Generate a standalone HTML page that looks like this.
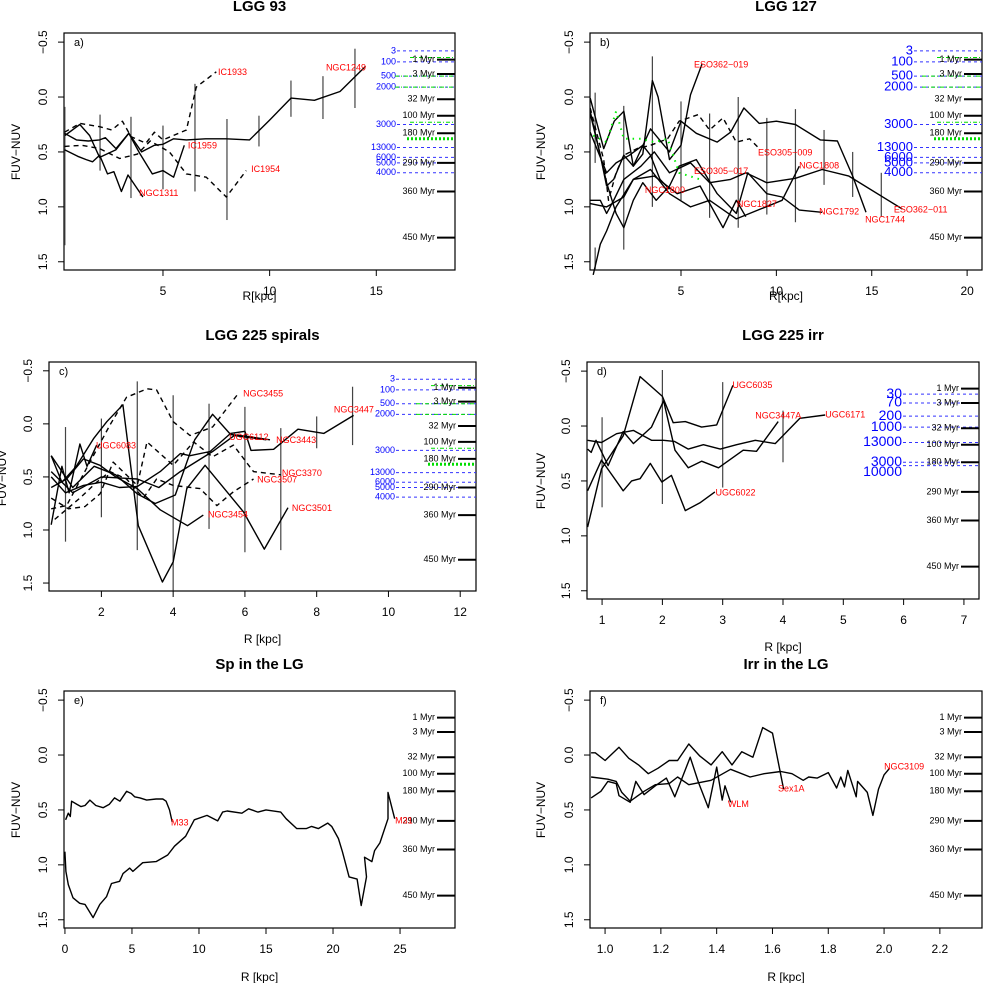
<!DOCTYPE html>
<html><head><meta charset="utf-8"><style>
html,body{margin:0;padding:0;background:#fff;}
svg{display:block;font-family:"Liberation Sans",sans-serif;}
</style></head><body>
<svg id="chart" width="983" height="983" viewBox="0 0 983 983"></svg>
<script>
// ===== data arrays (R in kpc, FUV-NUV colour) =====
// panel a: LGG 93
const aNGC1249R=[0.39,0.94,1.5,2.03,2.3,2.8,3.4,4.0,4.6,5.0,5.5,6.1,7.0,7.97,9.06,10.0,11.0,12.1,13.3,14.5];
const aNGC1249C=[0.33,0.39,0.4,0.39,0.37,0.47,0.33,0.5,0.44,0.43,0.38,0.39,0.38,0.38,0.39,0.21,0.01,0.03,-0.05,-0.28];
const aNGC1311R=[0.39,1.0,1.4,1.7,2.03,2.4,2.7,3.05,3.36,4.06];
const aNGC1311C=[0.48,0.54,0.57,0.59,0.53,0.7,0.68,0.86,0.71,0.91];
const aIC1959R=[0.4,1.1,1.56,2.03,2.8,3.4,3.9,4.5,5.0,5.5,6.0];
const aIC1959C=[0.35,0.25,0.35,0.55,0.48,0.33,0.51,0.7,0.67,0.73,0.44];
const aIC1933R=[0.39,1.1,2.03,2.6,3.1,3.5,4.2,4.6,5.0,6.1,6.56,7.5];
const aIC1933C=[0.32,0.24,0.27,0.3,0.22,0.36,0.42,0.32,0.39,0.3,-0.09,-0.23];
const aIC1954R=[0.39,1.2,2.03,2.97,3.8,4.4,5.3,6.1,7.03,7.97,8.9];
const aIC1954C=[0.45,0.44,0.47,0.56,0.52,0.4,0.5,0.7,0.73,0.91,0.67];
const aErrR=[0.4,2.05,3.5,5.0,6.5,8.0,9.5,11.0,12.5,14.0];
const aErrLo=[0.09,0.16,0.18,0.26,-0.12,0.2,0.17,-0.15,-0.19,-0.44];
const aErrHi=[1.35,0.67,0.92,0.84,0.86,1.12,0.45,0.18,0.2,0.1];
// panel b: LGG 127
const bESO362019R=[0.24,0.77,1.1,1.47,2.0,2.5,3.0,3.5,3.8,4.4,5.0,5.5,6.1];
const bESO362019C=[0.15,0.53,0.81,0.75,0.53,0.63,0.52,-0.15,0.0,0.57,0.44,-0.02,-0.3];
const bESO362011R=[0.24,0.77,1.1,1.47,2.0,2.9,3.6,4.4,5.5,6.5,7.6,8.4,9.5,11.0,12.4,13.8,16.6];
const bESO362011C=[0.94,0.94,1.06,0.94,0.75,0.63,0.5,0.69,0.6,0.78,0.75,0.69,0.78,0.74,0.66,0.72,1.02];
const bNGC1744R=[0.24,0.95,1.5,2.0,2.5,3.4,4.4,5.0,5.8,6.9,7.6,8.3,9.1,10.0,11.0,12.3,13.2,14.0,14.7];
const bNGC1744C=[0.01,0.47,0.22,0.13,0.63,0.29,0.5,0.22,0.33,0.41,0.32,0.1,0.24,0.22,0.25,0.39,0.4,0.72,1.05];
const bNGC1792R=[0.24,1.1,1.6,2.0,2.5,3.0,3.7,4.4,4.9,5.8,6.9,7.9,8.5,9.5,10.3,11.2,12.4];
const bNGC1792C=[0.13,0.78,1.06,1.19,0.94,0.78,0.94,0.81,0.63,0.57,0.88,1.06,0.69,0.88,0.91,1.03,1.05];
const bNGC1827R=[0.4,0.77,1.1,1.6,2.5,3.6,4.8,6.0,7.2,7.9,8.4];
const bNGC1827C=[1.62,1.34,1.22,1.0,0.75,0.72,0.88,0.81,1.19,0.94,1.09];
const bNGC1808R=[0.24,1.1,2.0,2.5,3.4,4.4,5.5,6.5,7.9,10.3,11.2];
const bNGC1808C=[0.97,1.0,0.91,0.75,0.66,0.88,1.0,0.94,1.11,0.94,0.63];
const bNGC1800R=[0.24,1.1,1.6,2.3,3.0,3.4,3.9,4.4];
const bNGC1800C=[0.32,0.69,0.6,0.53,0.44,0.53,0.75,0.84];
const bESO305009R=[0.24,0.95,1.2,1.6,2.0,2.7,3.4,4.3,4.9,5.9,6.5,7.2,7.9,8.6,9.1];
const bESO305009C=[0.1,0.57,0.94,0.69,0.53,0.47,0.44,0.38,0.22,0.16,0.3,0.19,0.41,0.38,0.47];
const bESO305017R=[0.4,1.1,1.6,2.0,2.9,3.6,4.3,4.9,6.0];
const bESO305017C=[0.35,0.41,0.13,0.38,0.38,0.41,0.38,0.69,0.75];
const bErrR=[0.5,0.5,2.0,3.5,5.0,6.5,8.0,9.5,11.0,12.5,14.0,15.5];
const bErrLo=[-0.04,1.37,0.08,-0.37,0.04,0.15,0.0,0.19,0.11,0.3,0.5,0.69];
const bErrHi=[0.6,1.6,1.39,1.0,0.94,1.1,1.19,1.07,1.14,0.8,0.91,1.09];
// panel c: LGG 225 spirals
const cNGC3447R=[0.6,1.0,1.5,2.0,2.5,3.0,3.64,4.2,4.47,5.03,5.6,6.0,6.17,6.8,7.48,8.2,9.03];
const cNGC3447C=[0.5,0.65,0.58,0.55,0.6,0.59,0.45,0.28,0.3,0.26,0.09,0.07,0.25,0.24,0.05,0.09,-0.08];
const cNGC3443R=[0.6,1.2,1.8,2.4,3.0,3.5,4.06,4.6,5.1,5.6,6.1,6.7];
const cNGC3443C=[0.3,0.6,0.4,0.48,0.66,0.75,0.67,0.15,-0.09,0.1,0.12,0.15];
const cNGC3454R=[0.6,1.03,1.5,1.96,2.4,3.0,3.64,4.4,4.84];
const cNGC3454C=[0.6,0.52,0.33,0.39,0.5,0.61,0.81,0.96,0.86];
const cNGC3501R=[0.6,0.9,1.3,1.78,2.15,2.6,3.03,3.7,4.0,4.38,4.89,5.96,6.54,7.2];
const cNGC3501C=[0.3,0.55,0.4,0.14,-0.02,-0.18,0.96,1.49,1.3,0.61,0.39,0.83,1.18,0.79];
const cUGC6083R=[0.6,0.9,1.1,1.4,1.6,1.87];
const cUGC6083C=[0.95,0.4,0.65,0.19,0.4,0.2];
const cUGC6112R=[0.6,1.2,2.0,3.0,3.6,4.2,5.1,5.7,6.6];
const cUGC6112C=[0.45,0.65,0.5,0.52,0.6,0.45,0.26,0.11,0.15];
const cNGC3455R=[0.6,1.03,1.68,2.24,2.7,3.27,3.54,4.0,4.47,5.1,5.78];
const cNGC3455C=[0.8,0.77,0.36,0.01,-0.25,-0.33,-0.32,-0.02,0.11,0.03,-0.27];
const cNGC3370R=[0.6,1.08,1.54,1.96,2.33,3.0,3.27,4.0,4.57,5.1,5.68,6.24,7.0];
const cNGC3370C=[0.7,0.8,0.78,0.66,0.36,0.58,0.17,0.39,0.17,0.31,0.2,0.45,0.48];
const cNGC3507R=[0.7,1.4,1.87,2.24,2.7,3.17,3.54,4.0,4.75,5.22,5.68,6.24];
const cNGC3507C=[0.9,0.7,0.55,0.45,0.52,0.7,0.52,0.58,0.61,0.77,0.64,0.52];
const cErrR=[1,2,3,4,5,6,7,8,9];
const cErrLo=[0.03,-0.05,-0.4,-0.27,-0.19,-0.16,0.04,-0.07,-0.35];
const cErrHi=[1.11,0.88,1.19,1.57,0.99,1.21,1.19,0.23,0.2];
// panel d: LGG 225 irr
const dUGC6035R=[0.76,0.99,1.35,1.63,2.0,2.18,2.38,2.65,2.9,3.17];
const dUGC6035C=[0.92,0.39,0.09,-0.45,-0.27,-0.03,-0.04,0.01,-0.01,-0.37];
const dUGC6022R=[0.76,0.99,1.35,1.49,1.63,1.8,1.99,2.15,2.38,2.62,2.87];
const dUGC6022C=[0.59,0.31,0.59,0.5,0.48,0.34,0.51,0.45,0.77,0.7,0.6];
const dNGC3447AR=[0.76,0.82,0.9,1.1,1.35,1.52,1.82,2.02,2.21,2.43,2.65,2.93,3.34,3.56,3.92];
const dNGC3447AC=[0.21,0.24,0.13,0.36,0.05,0.16,0.01,-0.23,0.22,0.38,0.32,0.38,0.22,0.23,-0.04];
const dUGC6171R=[0.76,0.99,1.24,1.52,1.82,2.02,2.2,2.43,2.68,2.96,3.23,3.54,3.87,4.28,4.7];
const dUGC6171C=[0.13,0.15,0.07,0.04,0.13,0.13,0.14,0.21,0.17,0.21,0.17,0.13,0.16,-0.07,-0.1];
const dErrR=[1,2,3,4];
const dErrLo=[-0.08,-0.51,-0.4,-0.14];
const dErrHi=[0.74,0.71,0.56,0.33];
// panel e: Sp in the LG
const eM33R=[0.05,0.25,0.4,0.5,0.9,1.2,1.5,1.86,2.3,2.85,3.3,3.7,4.1,4.6,4.95,5.2,5.6,6.1,6.8,7.3,7.55,7.8,8.0];
const eM33C=[0.59,0.53,0.56,0.42,0.45,0.47,0.46,0.41,0.46,0.48,0.45,0.39,0.42,0.33,0.35,0.38,0.39,0.41,0.4,0.4,0.42,0.5,0.61];
const eM31R=[0,0.07,0.25,0.6,1.1,1.5,2.1,2.6,3.1,3.47,4.08,4.33,4.83,5.07,5.8,6.8,7.67,8.17,9.0,9.65,10.6,11.4,11.76,12.1,13.2,13.7,14.4,15.0,16.1,16.5,17.3,18.0,18.4,18.9,19.6,19.9,20.4,20.7,21.2,21.8,22.1,22.5,22.35,22.9,23.1,23.5,24.1,24.1,24.6];
const eM31C=[0.88,1.06,1.18,1.3,1.35,1.36,1.48,1.36,1.29,1.17,1.15,1.08,1.03,1.06,0.98,0.97,0.91,0.83,0.74,0.59,0.55,0.6,0.52,0.51,0.53,0.49,0.52,0.5,0.52,0.58,0.67,0.67,0.65,0.67,0.62,0.65,0.76,0.88,1.11,1.13,1.37,1.11,0.93,0.97,0.87,0.8,0.58,0.34,0.58];
// panel f: Irr in the LG
const fSex1AR=[0.95,0.965,1.0,1.05,1.085,1.12,1.155,1.19,1.23,1.26,1.3,1.34,1.38,1.42,1.455,1.49,1.53,1.565,1.6,1.64];
const fSex1AC=[-0.02,-0.02,0.05,-0.07,0.03,0.09,0.17,0.12,0.05,0.05,-0.1,0.01,0.09,-0.03,0.09,-0.03,0.02,-0.25,-0.2,0.31];
const fWLMR=[0.95,0.985,1.01,1.04,1.05,1.09,1.11,1.14,1.18,1.22,1.25,1.305,1.335,1.37,1.4,1.42,1.43,1.45];
const fWLMC=[0.39,0.33,0.24,0.26,0.37,0.43,0.24,0.36,0.28,0.21,0.38,0.02,0.25,0.48,0.11,0.41,0.28,0.43];
const fNGC3109R=[0.95,1.01,1.04,1.06,1.09,1.14,1.18,1.23,1.26,1.3,1.38,1.45,1.52,1.57,1.63,1.67,1.71,1.73,1.76,1.8,1.83,1.845,1.858,1.87,1.9,1.905,1.94,1.96,1.98,2.0,2.02];
const fNGC3109C=[0.2,0.22,0.24,0.34,0.42,0.33,0.27,0.26,0.2,0.27,0.23,0.13,0.2,0.17,0.15,0.17,0.23,0.2,0.21,0.16,0.3,0.2,0.29,0.14,0.38,0.24,0.34,0.55,0.31,0.18,0.12];
// right-hand reference scales
const ageLabels=['1 Myr','3 Myr','32 Myr','100 Myr','180 Myr','290 Myr','360 Myr','450 Myr'];
const ageColours=[-0.34,-0.21,0.02,0.17,0.33,0.6,0.86,1.28];
const blueLabels=['3','100','500','2000','3000','13000','6000','5000','4000'];
const blueColours=[-0.42,-0.32,-0.19,-0.09,0.25,0.46,0.55,0.6,0.69];
const blueLabelsD=['30','70','200','1000','13000','3000','10000'];
const blueColoursD=[-0.29,-0.21,-0.09,0.01,0.15,0.33,0.36];
const greenColours=[-0.36,-0.19,-0.09,0.23,0.38];
const yTicks=[-0.5,0,0.5,1,1.5];

const NS='http://www.w3.org/2000/svg';
const svg=document.getElementById('chart');
function mk(tag,attrs,parent,txt){const e=document.createElementNS(NS,tag);for(const k in attrs)e.setAttribute(k,attrs[k]);if(txt!==undefined)e.textContent=txt;(parent||svg).appendChild(e);return e;}

const Y0=-0.583,Y1=1.575;
function panel(cfg){
  const g=mk('g',{});
  
  
  const sx=v=>cfg.L+(v-cfg.x0)/(cfg.x1-cfg.x0)*(cfg.R-cfg.L);
  const sy=v=>cfg.T+(v-Y0)/(Y1-Y0)*(cfg.B-cfg.T);
  const cx=(cfg.L+cfg.R)/2;
  const t=mk('text',{x:cx,y:cfg.T-22,'text-anchor':'middle','font-size':15,'font-weight':'bold'},g,cfg.title);
  
  const box=mk('rect',{x:cfg.L,y:cfg.T,width:cfg.R-cfg.L,height:cfg.B-cfg.T,fill:'none',stroke:'#000','stroke-width':1.2},g);
  
  const lt=mk('text',{x:cfg.L+10,y:cfg.T+13,'font-size':11},g,cfg.id+')');
  
  yTicks.forEach(v=>{
    const y=sy(v);
    mk('line',{x1:cfg.L,x2:cfg.L-6,y1:y,y2:y,stroke:'#000'},g);
    const tl=mk('text',{x:cfg.L-20,y:y,'font-size':12,'text-anchor':'middle',transform:`rotate(-90 ${cfg.L-20} ${y})`,'dominant-baseline':'middle'},g,v===-0.5?'\u22120.5':v.toFixed(1));
    
  });
  const yl=mk('text',{x:cfg.ylx,y:cfg.yly,'font-size':12,'text-anchor':'middle',transform:`rotate(-90 ${cfg.ylx} ${cfg.yly})`,'dominant-baseline':'middle'},g,'FUV\u2212NUV');
  
  cfg.xt.forEach(v=>{
    const x=sx(v);
    mk('line',{x1:x,x2:x,y1:cfg.B,y2:cfg.B+6,stroke:'#000'},g);
    const tl=mk('text',{x:x,y:cfg.B+25,'font-size':12,'text-anchor':'middle'},g,cfg.xfmt?v.toFixed(1):String(v));
    
  });
  const xl=mk('text',{x:cx,y:cfg.xly,'font-size':12,'text-anchor':'middle'},g,cfg.xlab);
  
  if(cfg.blue){
    cfg.blue.ys.forEach((v,i)=>{
      const y=sy(v);
      const bl=mk('line',{x1:cfg.blue.x,x2:cfg.R,y1:y,y2:y,stroke:'#3333ff','stroke-dasharray':'3,3','stroke-width':1},g);
      
      const off=(cfg.blue.labs[i]==='10000')?0.06:0;
      const tx=mk('text',{x:cfg.blue.x-1,y:sy(v+off),'font-size':cfg.blue.fs,fill:'#0000ff','text-anchor':'end','dominant-baseline':'middle'},g,cfg.blue.labs[i]);
      
    });
  }
  if(cfg.green){
    greenColours.forEach((v,i)=>{
      const y=sy(v);
      const gl=mk('line',{x1:cfg.R-(i===4?48:i===0||i===3?45:60),x2:cfg.R,y1:y,y2:y,stroke:'#00dd00','stroke-dasharray':i===4?'2,2':'4,2,1,2','stroke-width':i===4?3:1},g);
      
    });
  }
  ageColours.forEach((v,i)=>{
    const y=sy(v);
    const tk=mk('line',{x1:cfg.R-18,x2:cfg.R,y1:y,y2:y,stroke:'#000','stroke-width':2},g);
    
    const tx=mk('text',{x:cfg.R-20,y:y,'font-size':9,'text-anchor':'end','dominant-baseline':'middle'},g,ageLabels[i]);
    
  });
  if(cfg.err){
    cfg.err.r.forEach((r,i)=>{
      const eb=mk('line',{x1:sx(r),x2:sx(r),y1:sy(Math.max(cfg.err.lo[i],Y0)),y2:sy(Math.min(cfg.err.hi[i],Y1)),stroke:'#444','stroke-width':1.2},g);
      
    });
  }
  cfg.series.forEach(s=>{
    const pts=s.r.map((r,i)=>sx(r).toFixed(1)+','+sy(s.c[i]).toFixed(1)).join(' ');
    const attrs={points:pts,fill:'none',stroke:s.col||'#000','stroke-width':s.col?2:1.4,'stroke-linejoin':'round'};
    if(s.dash)attrs['stroke-dasharray']=s.dash;
    const pl=mk('polyline',attrs,g);
    
    
  });
  cfg.labels.forEach(l=>{
    const tx=mk('text',{x:sx(l[1]),y:sy(l[2]),'font-size':9,fill:'#ff0000','dominant-baseline':'middle'},g,l[0]);
    
  });
}

panel({id:'a',title:'LGG 93',L:64,T:33,R:455,B:270,x0:0.36,x1:18.69,xt:[5,10,15],xlab:'R[kpc]',xly:300,ylx:17,yly:152,
  blue:{x:397,fs:9,labs:blueLabels,ys:blueColours},green:true,
  err:{r:aErrR,lo:aErrLo,hi:aErrHi},
  series:[{name:'NGC1249',r:aNGC1249R,c:aNGC1249C},{name:'NGC1311',r:aNGC1311R,c:aNGC1311C},{name:'IC1959',r:aIC1959R,c:aIC1959C},
    {name:'IC1933',r:aIC1933R,c:aIC1933C,dash:'5,4'},{name:'IC1954',r:aIC1954R,c:aIC1954C,dash:'5,4'}],
  labels:[['NGC1249',12.64,-0.264],['IC1933',7.58,-0.22],['IC1959',6.17,0.445],['IC1954',9.13,0.66],['NGC1311',3.88,0.88]]});

panel({id:'b',title:'LGG 127',L:590,T:33,R:982,B:270,x0:0.23,x1:20.78,xt:[5,10,15,20],xlab:'R[kpc]',xly:300,ylx:542,yly:152,
  blue:{x:914,fs:13,labs:blueLabels,ys:blueColours},green:true,
  err:{r:bErrR,lo:bErrLo,hi:bErrHi},
  series:[{name:'ESO362-019',r:bESO362019R,c:bESO362019C},{name:'ESO362-011',r:bESO362011R,c:bESO362011C},{name:'NGC1744',r:bNGC1744R,c:bNGC1744C},
    {name:'NGC1792',r:bNGC1792R,c:bNGC1792C},{name:'NGC1827',r:bNGC1827R,c:bNGC1827C},{name:'NGC1808',r:bNGC1808R,c:bNGC1808C},
    {name:'NGC1800',r:bNGC1800R,c:bNGC1800C},{name:'ESO305-009',r:bESO305009R,c:bESO305009C,dash:'5,4'},
    {name:'ESO305-017',r:bESO305017R,c:bESO305017C,dash:'1.5,5',col:'#00ee00'}],
  labels:[['ESO362\u2212019',5.68,-0.29],['ESO305\u2212009',9.04,0.51],['NGC1808',11.19,0.63],['ESO305\u2212017',5.68,0.68],['NGC1800',3.11,0.85],['NGC1827',7.93,0.98],['NGC1792',12.24,1.05],['NGC1744',14.65,1.12],['ESO362\u2212011',16.16,1.03]]});

panel({id:'c',title:'LGG 225 spirals',L:49,T:362,R:476,B:591,x0:0.54,x1:12.44,xt:[2,4,6,8,10,12],xlab:'R [kpc]',xly:643,ylx:3,yly:478,
  blue:{x:396,fs:9,labs:blueLabels,ys:blueColours},green:true,
  err:{r:cErrR,lo:cErrLo,hi:cErrHi},
  series:[{name:'NGC3447',r:cNGC3447R,c:cNGC3447C},{name:'NGC3443',r:cNGC3443R,c:cNGC3443C},{name:'NGC3454',r:cNGC3454R,c:cNGC3454C},
    {name:'NGC3501',r:cNGC3501R,c:cNGC3501C},{name:'UGC6083',r:cUGC6083R,c:cUGC6083C},{name:'UGC6112',r:cUGC6112R,c:cUGC6112C},
    {name:'NGC3455',r:cNGC3455R,c:cNGC3455C,dash:'5,4'},{name:'NGC3370',r:cNGC3370R,c:cNGC3370C,dash:'5,4'},{name:'NGC3507',r:cNGC3507R,c:cNGC3507C,dash:'5,4'}],
  labels:[['NGC3455',5.95,-0.28],['NGC3447',8.48,-0.13],['UGC6112',5.56,0.13],['NGC3443',6.87,0.16],['UGC6083',1.85,0.21],['NGC3370',7.03,0.47],['NGC3507',6.34,0.53],['NGC3454',4.97,0.86],['NGC3501',7.31,0.8]]});

panel({id:'d',title:'LGG 225 irr',L:587,T:362,R:979,B:599,x0:0.75,x1:7.25,xt:[1,2,3,4,5,6,7],xlab:'R [kpc]',xly:651,ylx:542,yly:481,
  blue:{x:903,fs:14,labs:blueLabelsD,ys:blueColoursD},green:false,
  err:{r:dErrR,lo:dErrLo,hi:dErrHi},
  series:[{name:'UGC6035',r:dUGC6035R,c:dUGC6035C},{name:'UGC6022',r:dUGC6022R,c:dUGC6022C},{name:'NGC3447A',r:dNGC3447AR,c:dNGC3447AC},{name:'UGC6171',r:dUGC6171R,c:dUGC6171C}],
  labels:[['UGC6035',3.16,-0.37],['NGC3447A',3.54,-0.09],['UGC6171',4.7,-0.1],['UGC6022',2.88,0.61]]});

panel({id:'e',title:'Sp in the LG',L:64,T:691,R:455,B:928,x0:-0.07,x1:29.1,xt:[0,5,10,15,20,25],xlab:'R [kpc]',xly:981,ylx:17,yly:810,
  series:[{name:'M33',r:eM33R,c:eM33C},{name:'M31',r:eM31R,c:eM31C}],
  labels:[['M33',7.91,0.62],['M31',24.63,0.6]]});

panel({id:'f',title:'Irr in the LG',L:590,T:691,R:982,B:928,x0:0.946,x1:2.351,xt:[1.0,1.2,1.4,1.6,1.8,2.0,2.2],xfmt:true,xlab:'R [kpc]',xly:981,ylx:542,yly:810,
  series:[{name:'Sex1A',r:fSex1AR,c:fSex1AC},{name:'WLM',r:fWLMR,c:fWLMC},{name:'NGC3109',r:fNGC3109R,c:fNGC3109C}],
  labels:[['NGC3109',2.0,0.11],['Sex1A',1.62,0.31],['WLM',1.44,0.45]]});
</script>
</body></html>
